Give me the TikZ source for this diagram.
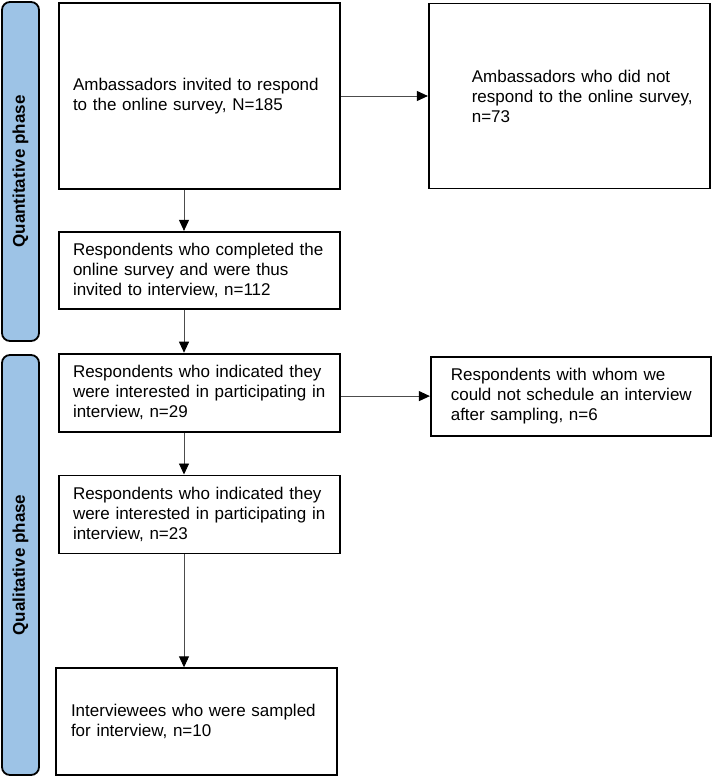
\documentclass[tikz,border=0pt]{standalone}
\usepackage{fontspec}
\setmainfont{Liberation Sans}
\usetikzlibrary{positioning}
\usetikzlibrary{arrows.meta}
\definecolor{phaseblue}{RGB}{157,195,230}
\tikzset{node distance=44pt, % Gap between two boxes of the flow
every node/.style={font=\fontsize{17}{20}\selectfont},
flowbox/.style={ % Sets the properties for each box
draw,
line width=1.8pt,
align=left,
inner xsep=13pt,
text width=255pt,
minimum height=#1},
flowbox/.default=78pt,
textindent/.style={execute at begin node={\leftskip=#1\relax\hyphenpenalty=10000\relax}}, % Extra left margin of the text
phase/.style={ % Sets the properties for the phase bars
draw,
line width=1.8pt,
fill=phaseblue,
rounded corners=8pt,
rotate=90,
inner sep=0pt,
minimum height=37pt,
font=\fontsize{17}{20}\selectfont\bfseries},
every edge/.style={ % Sets the properties for each arrow
draw=black!70,
line width=0.9pt,
-{Triangle[length=11pt,width=10pt,color=black]}}}

\begin{document}
\begin{tikzpicture}[x=1pt,y=-1pt]
				\useasboundingbox (0,0) rectangle (712,778);
				\node[phase, minimum width=339pt] (quant) at (20.5,171.5) {Quantitative phase};
				\node[phase, minimum width=420pt] (qual) at (20.5,565) {Qualitative phase};
				\coordinate (spine) at (184,0);

				\node[flowbox=186pt, textindent=1pt] (invited) at (199.5,96) {Ambassadors invited to respond\\to the online survey, N=185};
				\node[flowbox=185pt, textindent=30pt, right=87pt of invited] (noresp) {Ambassadors who did not\\respond to the online survey,\\n=73};
				\node[flowbox=77pt, textindent=1pt, below=41pt of invited] (completed) {Respondents who completed the\\online survey and were thus\\invited to interview, n=112};
				\node[flowbox, textindent=1pt, below=43pt of completed] (interest29) {Respondents who indicated they\\were interested in participating in\\interview, n=29};
				\node[flowbox=79pt, text width=254pt, textindent=7pt, right=89pt of interest29, yshift=-3.5pt] (nosched) {Respondents with whom we\\could not schedule an interview\\after sampling, n=6};
				\node[flowbox, textindent=1pt, below=42pt of interest29] (interest23) {Respondents who indicated they\\were interested in participating in\\interview, n=23};
				\node[flowbox=107pt, textindent=2pt, below=113pt of interest23, xshift=-3pt] (sampled) {Interviewees who were sampled\\for interview, n=10};

				\draw (invited) edge (noresp);
				\draw (invited.south -| spine) edge (completed.north -| spine);
				\draw (completed.south -| spine) edge (interest29.north -| spine);
				\draw (interest29.east |- nosched) edge (nosched);
				\draw (interest29.south -| spine) edge (interest23.north -| spine);
				\draw (interest23.south -| spine) edge (sampled.north -| spine);
			\end{tikzpicture}
\end{document}
